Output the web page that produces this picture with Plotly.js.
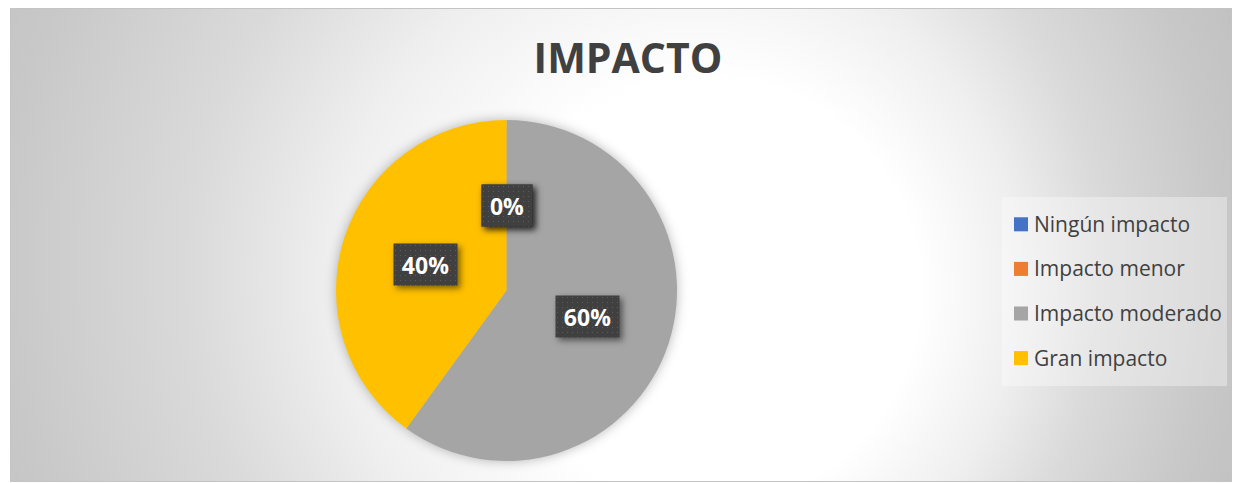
<!DOCTYPE html>
<html><head><meta charset="utf-8">
<script src="https://cdn.plot.ly/plotly-3.0.1.min.js"></script>
<style>
html,body{margin:0;padding:0;background:#fff;width:1235px;height:483px;overflow:hidden;}
#wrap{position:absolute;left:10px;top:8px;width:1222px;height:474px;}
#bg{position:absolute;left:0;top:0;}
#chart{position:absolute;left:0;top:0;width:1222px;height:474px;}
.pielayer .trace{filter:drop-shadow(0px 0px 6px rgba(0,0,0,0.28));}
.annotation rect.bg{filter:drop-shadow(3px 3px 3px rgba(0,0,0,0.5)); fill:url(#dots) !important;}
.legend path.legendpie{transform:translate(27px,0px) scale(1.17);}
</style></head>
<body>
<div id="wrap">
<svg id="bg" width="1222" height="474">
<defs>
<radialGradient id="g" gradientUnits="userSpaceOnUse" cx="560" cy="240" r="760" fx="750" fy="300">
<stop offset="0" stop-color="#ffffff"/>
<stop offset="0.28" stop-color="#ffffff"/>
<stop offset="0.45" stop-color="#efefef"/>
<stop offset="0.6" stop-color="#dadada"/>
<stop offset="0.8" stop-color="#c8c8c8"/>
<stop offset="1" stop-color="#bcbcbc"/>
</radialGradient>
<pattern id="dots" patternUnits="userSpaceOnUse" width="5" height="5">
<rect x="0" y="0" width="5" height="5" fill="#404040"/>
<rect x="2" y="2" width="1" height="1" fill="#5c5c5c"/>
</pattern>
</defs>
<rect x="0" y="0" width="1222" height="474" fill="url(#g)"/>
<rect x="0.5" y="0.5" width="1221" height="473" fill="none" stroke="#c4c4c4" stroke-width="1"/>
</svg>
<div id="chart"></div>
</div>
<script>
// ---- data ----
const chartTitle = 'IMPACTO';
const categories = ['Ningún impacto', 'Impacto menor', 'Impacto moderado', 'Gran impacto'];
const values = [0, 0, 60, 40];
const sliceColors = ['#4472C4', '#ED7D31', '#A5A5A5', '#FFC000'];

// ---- layout geometry (pixels within 1222x474 plot) ----
const W = 1222, H = 474;
const pieCx = 496.5, pieCy = 282.5, pieR = 170.5;
const dom = {
  x: [(pieCx - pieR) / W, (pieCx + pieR) / W],
  y: [1 - (pieCy + pieR) / H, 1 - (pieCy - pieR) / H]
};
const cxP = (dom.x[0] + dom.x[1]) / 2, cyP = (dom.y[0] + dom.y[1]) / 2;

const total = values.reduce((a, b) => a + b, 0);
let cum = 0;
const annotations = [];
values.forEach((v, i) => {
  const frac = v / total;
  const mid = (cum + frac / 2) * 2 * Math.PI; // clockwise from 12 o'clock
  cum += frac;
  const pct = Math.round(frac * 100) + '%';
  const fs = 23;
  const w = Math.round(fs * (0.572 * (pct.length - 1) + 0.846) + 17);
  annotations.push({
    xref: 'paper', yref: 'paper', x: cxP, y: cyP,
    xshift: 0.5 * pieR * Math.sin(mid), yshift: 0.5 * pieR * Math.cos(mid),
    xanchor: 'center', yanchor: 'middle',
    text: '<b>' + pct + '</b>', showarrow: false,
    font: {family: 'Open Sans', size: fs, color: '#ffffff'},
    bgcolor: '#404040', borderpad: 0, width: w, height: 41,
    align: 'center', valign: 'middle'
  });
});

// legend entries: large legend font gives the row spacing, the span sets the visible size
const legendLabels = categories.map(c => '<span style="font-size:21px;baseline-shift:5px">' + c + '</span>');

const trace = {
  type: 'pie', labels: legendLabels, values: values, sort: false,
  direction: 'clockwise', rotation: 0,
  marker: {colors: sliceColors, line: {width: 0}},
  textinfo: 'none', hoverinfo: 'label+percent',
  domain: dom, automargin: false
};

const layout = {
  width: W, height: H,
  margin: {l: 0, r: 0, t: 0, b: 0},
  paper_bgcolor: 'rgba(0,0,0,0)', plot_bgcolor: 'rgba(0,0,0,0)',
  title: {text: chartTitle, font: {family: 'Open Sans', size: 41, color: '#404040', weight: 'bold'},
          x: 618 / W, xanchor: 'center', xref: 'paper', y: 1 - 50.7 / H, yanchor: 'middle', yref: 'container'},
  showlegend: true,
  legend: {
    x: 992 / W, xanchor: 'left', y: 1 - 189 / H, yanchor: 'top',
    bgcolor: 'rgba(255,255,255,0.35)', borderwidth: 0,
    font: {family: 'Open Sans', size: 32, color: '#404040'},
    indentation: -8
  },
  annotations: annotations
};

Plotly.newPlot('chart', [trace], layout, {staticPlot: true, displayModeBar: false});
</script>
</body></html>
